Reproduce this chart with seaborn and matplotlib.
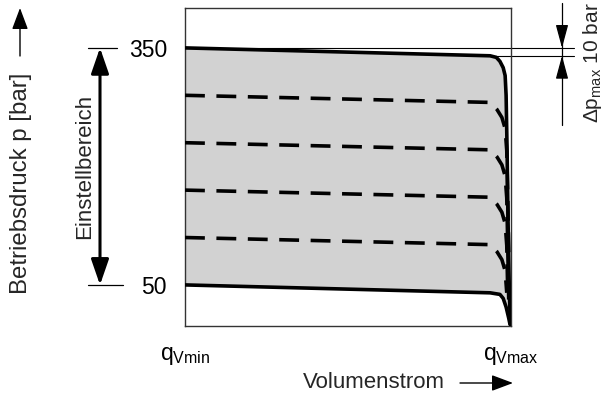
import matplotlib
matplotlib.use("Agg")
import matplotlib.pyplot as plt
import matplotlib.transforms as mtransforms
import seaborn as sns
import numpy as np
import pandas as pd

# ---- data ----
flow_top = [0, 93.6, 95.5, 96.6, 97.6, 98.2, 98.5, 98.8, 99.1, 99.5, 99.8]
p_top = [350, 340, 338, 333, 325, 315, 290, 220, 130, 40, 0]

flow_bottom = [0, 93.6, 96.6, 97.6, 98.5, 99.3, 99.7]
p_bottom = [50, 40, 38, 33, 22, 8, 0]

dashed_setpoints = [290, 230, 170, 110]
knee_flow = [0, 93.6, 95.7, 97.2, 98.2, 98.7, 99.0, 99.3]
knee_drop = [0, 9, 18, 28, 42, 70, 130, 200]

pressure_ticks = [50, 350]
pressure_labels = ["50", "350"]
flow_ticks = [0, 100]
flow_labels = [r"q$_{\mathregular{Vmin}}$", r"q$_{\mathregular{Vmax}}$"]

# ---- build long table ----
rows = []
for f, p in zip(flow_top, p_top):
    rows.append(dict(curve="top", kind="solid", flow=f, p=p))
for f, p in zip(flow_bottom, p_bottom):
    rows.append(dict(curve="bottom", kind="solid", flow=f, p=p))
for sp in dashed_setpoints:
    for f, d in zip(knee_flow, knee_drop):
        if sp - d >= 0:
            rows.append(dict(curve=f"set{sp}", kind="dashed", flow=f, p=sp - d))
df = pd.DataFrame(rows)

sns.set_theme(style="white")
plt.rcParams["font.family"] = ["Liberation Sans", "DejaVu Sans"]
plt.rcParams["mathtext.fontset"] = "custom"
plt.rcParams["mathtext.rm"] = "Liberation Sans"

W, H = 606, 412
fig = plt.figure(figsize=(W / 100, H / 100), dpi=100)
ax = fig.add_axes([185 / W, 1 - 326 / H, 326 / W, 318 / H])

def fx(x):
    return x / W

def fy(y):
    return 1 - y / H

# fill between bottom and top curve
poly_x = list(flow_top) + list(flow_bottom)[::-1]
poly_y = list(p_top) + list(p_bottom)[::-1]
ax.fill(poly_x, poly_y, color="#d2d2d2", lw=0, zorder=1)

sns.lineplot(data=df, x="flow", y="p", style="kind", units="curve",
             estimator=None, sort=False, color="black", lw=2.6,
             dashes={"solid": "", "dashed": (5.5, 3.2)}, legend=False,
             ax=ax, zorder=3)

ax.set_xlim(0, 100)
ax.set_ylim(-2, 400.5)
ax.set_xlabel("")
ax.set_ylabel("")
ax.set_xticks(flow_ticks, flow_labels)
ax.set_yticks(pressure_ticks, pressure_labels)
ax.tick_params(axis="both", length=0, labelsize=16.5, colors="black")
ax.tick_params(axis="x", pad=13)
ax.tick_params(axis="y", pad=13)
for s in ax.spines.values():
    s.set_color("#333333")
    s.set_linewidth(1.0)

blend = mtransforms.blended_transform_factory(fig.transFigure, ax.transData)

# short reference lines at 350 and 50
ax.plot([fx(88), fx(117)], [350, 350], color="black", lw=0.9, transform=blend, clip_on=False)
ax.plot([fx(88), fx(123)], [50, 50], color="black", lw=0.9, transform=blend, clip_on=False)

# Einstellbereich double arrow
ax.annotate("", xy=(fx(100), 50), xytext=(fx(100), 350),
            xycoords=blend, textcoords=blend,
            arrowprops=dict(arrowstyle="<|-|>,head_length=1.3,head_width=0.45",
                            mutation_scale=12, color="black", lw=2.2,
                            shrinkA=0, shrinkB=0))
fig.text(fx(85), fy(166), "Einstellbereich", rotation=90, ha="center", va="center", fontsize=16)

# y axis title and arrow
fig.text(fx(21), fy(183), "Betriebsdruck p [bar]", rotation=90, ha="center", va="center", fontsize=17.3)
fig.patches.append(matplotlib.patches.FancyArrowPatch(
    (fx(20), fy(56)), (fx(20), fy(8)), transform=fig.transFigure,
    arrowstyle="-|>,head_length=1.2,head_width=0.45", mutation_scale=11,
    color="black", lw=1.0, shrinkA=0, shrinkB=0))

# x title and arrow
fig.text(fx(374), fy(383), "Volumenstrom", ha="center", va="center", fontsize=16)
fig.patches.append(matplotlib.patches.FancyArrowPatch(
    (fx(460), fy(383)), (fx(513), fy(383)), transform=fig.transFigure,
    arrowstyle="-|>,head_length=1.2,head_width=0.45", mutation_scale=11,
    color="black", lw=1.0, shrinkA=0, shrinkB=0))

# delta p max lines
ax.plot([fx(185), fx(574)], [350, 350], color="black", lw=0.8, transform=blend, clip_on=False, zorder=2)
ax.plot([fx(490), fx(574)], [340, 340], color="black", lw=0.8, transform=blend, clip_on=False, zorder=2)
fig.add_artist(plt.Line2D([fx(562), fx(562)], [fy(3), fy(125)], color="black", lw=0.9,
                          transform=fig.transFigure))
ax.annotate("", xy=(fx(562), 350), xytext=(fx(562), 372),
            xycoords=blend, textcoords=blend,
            arrowprops=dict(arrowstyle="-|>,head_length=1.3,head_width=0.35",
                            mutation_scale=11, color="black", lw=0.9,
                            shrinkA=0, shrinkB=0))
ax.annotate("", xy=(fx(562), 340), xytext=(fx(562), 318),
            xycoords=blend, textcoords=blend,
            arrowprops=dict(arrowstyle="-|>,head_length=1.3,head_width=0.35",
                            mutation_scale=11, color="black", lw=0.9,
                            shrinkA=0, shrinkB=0))
fig.text(fx(593), fy(63), r"Δp$_{\mathregular{max}}$ 10 bar", rotation=90,
         ha="center", va="center", fontsize=15)

fig.savefig("out.png", dpi=100)
